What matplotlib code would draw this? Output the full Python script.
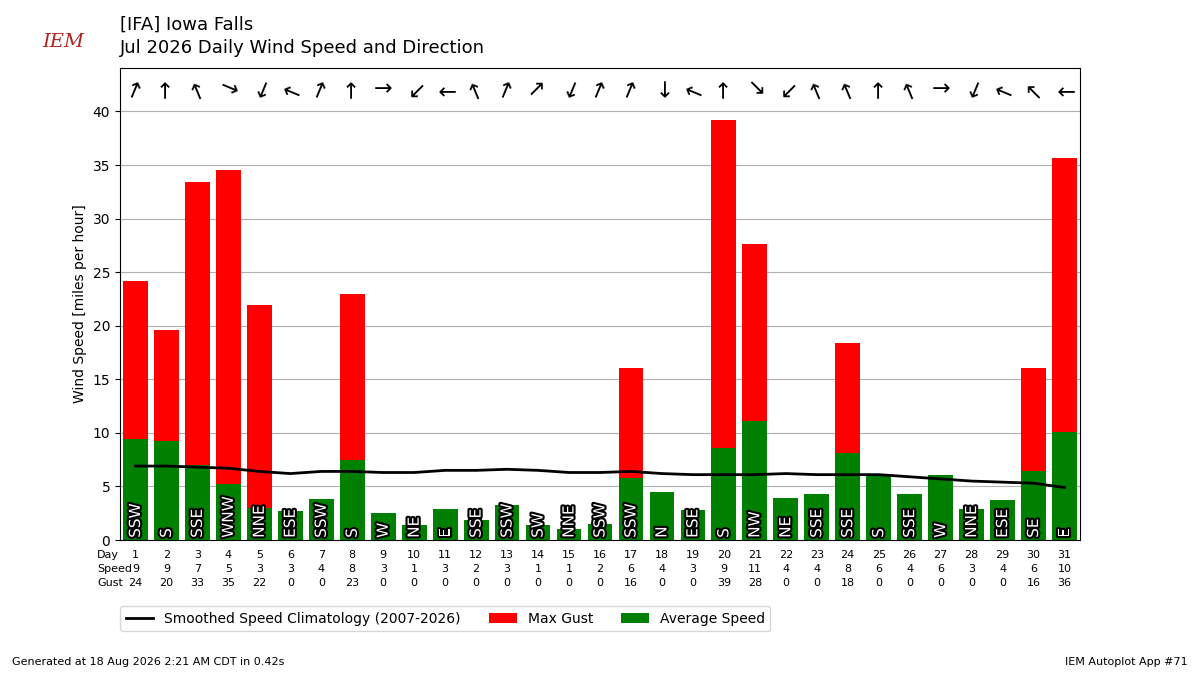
import matplotlib.pyplot as plt
import matplotlib.patheffects as PathEffects
from matplotlib.transforms import blended_transform_factory

days = list(range(1, 32))
avg_speed = [9.4, 9.2, 7.0, 5.2, 3.0, 2.7, 3.8, 7.5, 2.5, 1.4, 2.9, 1.9, 3.3, 1.4, 1.0, 1.5,
             5.8, 4.5, 2.8, 8.6, 11.1, 3.9, 4.3, 8.1, 6.0, 4.3, 6.1, 2.9, 3.7, 6.4, 10.1]
max_gust = [24.2, 19.6, 33.4, 34.5, 21.9, 0, 0, 23.0, 0, 0, 0, 0, 0, 0, 0, 0,
            16.1, 0, 0, 39.2, 27.6, 0, 0, 18.4, 0, 0, 0, 0, 0, 16.1, 35.7]
speed_lbl = [9, 9, 7, 5, 3, 3, 4, 8, 3, 1, 3, 2, 3, 1, 1, 2, 6, 4, 3, 9, 11, 4, 4, 8, 6, 4, 6, 3, 4, 6, 10]
gust_lbl = [24, 20, 33, 35, 22, 0, 0, 23, 0, 0, 0, 0, 0, 0, 0, 0, 16, 0, 0, 39, 28, 0, 0, 18, 0, 0, 0, 0, 0, 16, 36]
directions = ['SSW', 'S', 'SSE', 'WNW', 'NNE', 'ESE', 'SSW', 'S', 'W', 'NE', 'E', 'SSE', 'SSW', 'SW',
              'NNE', 'SSW', 'SSW', 'N', 'ESE', 'S', 'NW', 'NE', 'SSE', 'SSE', 'S', 'SSE', 'W', 'NNE',
              'ESE', 'SE', 'E']
climatology = [6.9, 6.9, 6.8, 6.7, 6.4, 6.2, 6.4, 6.4, 6.3, 6.3, 6.5, 6.5, 6.6, 6.5, 6.3, 6.3,
               6.4, 6.2, 6.1, 6.1, 6.1, 6.2, 6.1, 6.1, 6.1, 5.9, 5.7, 5.5, 5.4, 5.3, 4.9]

compass = ['N', 'NNE', 'NE', 'ENE', 'E', 'ESE', 'SE', 'SSE', 'S', 'SSW', 'SW', 'WSW', 'W', 'WNW', 'NW', 'NNW']

fig = plt.figure(figsize=(12, 6.75), dpi=100)
ax = fig.add_axes([0.1, 0.2, 0.8, 0.7])

gust_top = [max(g - a, 0) for g, a in zip(max_gust, avg_speed)]
ax.bar(days, gust_top, bottom=avg_speed, width=0.8, color='r', label='Max Gust', zorder=2)
ax.bar(days, avg_speed, width=0.8, color='g', label='Average Speed', zorder=2)
ax.plot(days, climatology, color='k', lw=2, label='Smoothed Speed Climatology (2007-2026)', zorder=3)

for d, drct in zip(days, directions):
    txt = ax.text(d, 0.2, drct, rotation=90, ha='center', va='bottom', color='white', fontsize=11, zorder=4)
    txt.set_path_effects([PathEffects.withStroke(linewidth=3, foreground='k')])
    deg = compass.index(drct) * 22.5
    ax.text(d, 42.1, '\u2192', rotation=(90 - (deg + 180)) % 360,
            ha='center', va='center', fontsize=16)

trans = blended_transform_factory(ax.transData, fig.transFigure)
for row, (name, vals) in enumerate([('Day', days), ('Speed', speed_lbl), ('Gust', gust_lbl)]):
    y = (675 - 555 - row * 14) / 675.
    fig.text(97 / 1200., y, name, fontsize=8, va='center')
    for d, v in zip(days, vals):
        ax.text(d, y, str(v), transform=trans, ha='center', va='center', fontsize=8)

ax.set_xlim(0.5, 31.5)
ax.set_ylim(0, 44.1)
ax.set_xticks([])
ax.set_yticks(range(0, 41, 5))
ax.set_ylabel('Wind Speed [miles per hour]')
ax.grid(axis='y', zorder=0)
ax.set_axisbelow(True)
ax.legend(loc='upper left', bbox_to_anchor=(0.0, -0.14), ncol=3, borderaxespad=0)

fig.text(0.1, 0.963, '[IFA] Iowa Falls', fontsize=13, va='center')
fig.text(0.1, 0.929, 'Jul 2026 Daily Wind Speed and Direction', fontsize=13, va='center')
fig.text(0.01, 0.015, 'Generated at 18 Aug 2026 2:21 AM CDT in 0.42s', fontsize=8)
fig.text(0.99, 0.015, 'IEM Autoplot App #71', fontsize=8, ha='right')
fig.text(0.035, 0.93, 'IEM', fontsize=14, color='#b22222', style='italic', family='serif')

plt.savefig('out.png')
